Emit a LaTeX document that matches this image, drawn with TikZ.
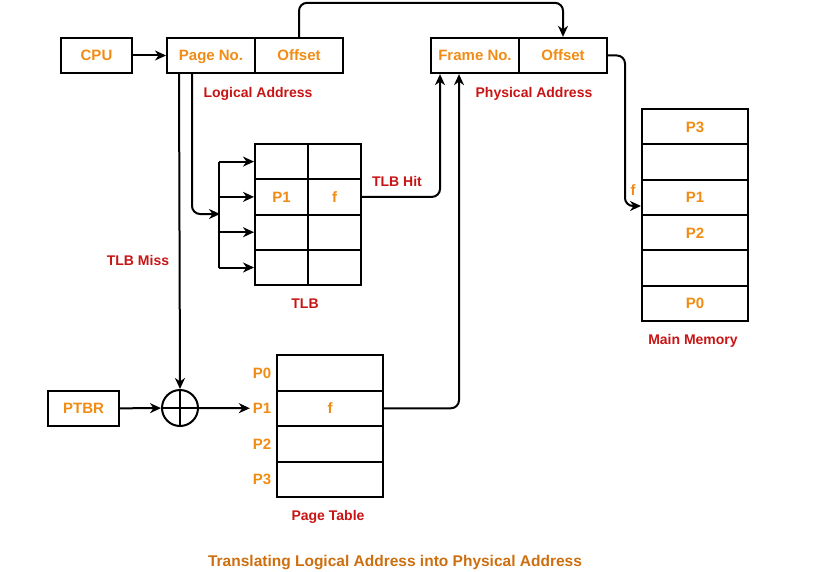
\documentclass[tikz,border=0pt]{standalone}
\usepackage{fontspec}
\setmainfont{Liberation Sans}
\usetikzlibrary{arrows.meta,calc}
\definecolor{org}{RGB}{240,140,20}
\definecolor{lbl}{RGB}{200,20,20}
\definecolor{ttl}{RGB}{205,110,15}
\begin{document}
\begin{tikzpicture}[x=1pt,y=-1pt,line width=2pt,
  cell/.style={draw,inner sep=0,minimum height=35.3pt,text=org,text height=10.8pt,text depth=0pt,font=\bfseries\fontsize{15}{17}\selectfont},
  wcell/.style={cell,minimum width=#1},
  olbl/.style={text=org,inner sep=0,text height=10.8pt,text depth=0pt,font=\bfseries\fontsize{15}{17}\selectfont},
  rlbl/.style={text=lbl,inner sep=0,text height=10pt,text depth=0pt,font=\bfseries\fontsize{14}{16}\selectfont},
  arr/.style={-{Stealth[length=11pt,width=10pt,inset=3.5pt]}},
  rc/.style={rounded corners=8pt}]
\useasboundingbox (0,0) rectangle (826,572);
% top boxes
\node[wcell=71pt] (cpu) at (96.5,55.5) {CPU};
\node[wcell=88pt] (pg) at (211,55.5) {Page No.};
\node[wcell=88pt] (lof) at (299,55.5) {Offset};
\node[wcell=88pt] (pf) at (475,55.5) {Frame No.};
\node[wcell=88pt] (pof) at (563,55.5) {Offset};
\node[rlbl] (la) at (258,93) {Logical Address};
\node[rlbl] (pa) at (534,93) {Physical Address};
% TLB
\foreach \i/\y in {1/161.6,2/196.9,3/232.2,4/267.5}{
  \node[wcell=53pt] (t\i a) at (281.5,\y) {};
  \node[wcell=53pt] (t\i b) at (334.5,\y) {};
}
\node[olbl] at (t2a) {P1};
\node[olbl] at (t2b) {f};
\node[rlbl] (tlbl) at (305,303) {TLB};
% main memory
\foreach \i/\y/\t in {1/126.7/P3,2/162/,3/197.3/P1,4/232.7/P2,5/268/,6/303.3/P0}{
  \node[wcell=106pt] (m\i) at (695,\y) {\t};
}
\node[rlbl] (mml) at (693,339) {Main Memory};
% page table
\foreach \i/\y in {1/372.75,2/408.25,3/443.75,4/479.25}{
  \node[wcell=106pt,minimum height=35.5pt] (pt\i) at (330,\y) {};
}
\node[olbl] at (pt2) {f};
\node[olbl] (pl0) at (262,372.75) {P0};
\node[olbl] (pl1) at (262,408.25) {P1};
\node[olbl] (pl2) at (262,443.75) {P2};
\node[olbl] (pl3) at (262,479.25) {P3};
\node[rlbl] (ptl) at (328,515) {Page Table};
% PTBR and adder
\node[wcell=71pt] (ptbr) at (83.5,408.5) {PTBR};
\node[draw,circle,minimum size=36pt,inner sep=0] (add) at (180,408) {};
\draw (add.north) -- (add.south) (add.west) -- (add.east);
% labels
\node[rlbl] (miss) at (138,260) {TLB Miss};
\node[rlbl] (hit) at (397,181) {TLB Hit};
\node[olbl] (fl) at (633,190) {f};
\node[text=ttl,inner sep=0,text height=11pt,text depth=0pt,font=\bfseries\fontsize{15.5}{18}\selectfont] (title) at (395,561) {Translating Logical Address into Physical Address};
% connectors
\draw[arr] (cpu) -- (pg);
\draw[arr,rc] (lof.north) -- ++(0,-34) -| (pof.north);
\coordinate (fin) at (625,206);
\draw[arr,rc] (pof.east) -| (fin) -- (fin -| m3.west);
\coordinate (pA) at ($(pg.south west)+(13,0)$);
\coordinate (pB) at ($(pg.south west)+(26,0)$);
\draw[arr] (pA) -- (add.north);
\coordinate (bj) at (220,214);
\draw[arr,rc] (pB) |- (bj);
\foreach \i in {1,2,3,4}{\coordinate (b\i) at ($(t\i a.west)+(-35,0)$);}
\draw (b1) -- (b4);
\foreach \i in {1,2,3,4}{\draw[arr] (b\i) -- (t\i a.west);}
\draw[arr,rc] (t2b.east) -| ($(pf.south west)+(10,0)$);
\draw[arr,rc] (pt2.east) -| ($(pf.south west)+(29,0)$);
\draw[arr] (ptbr) -- (add);
\draw[arr] (add.east) -- ($(pl1.west)+(-2,0)$);
\end{tikzpicture}
\end{document}
